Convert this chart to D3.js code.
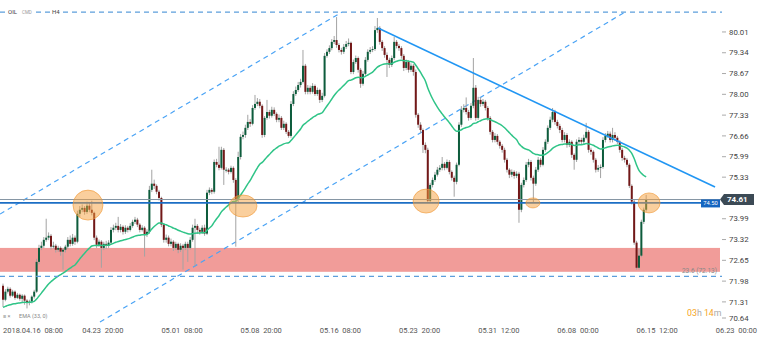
<!DOCTYPE html>
<html>
<head>
<meta charset="utf-8">
<script src="https://cdn.jsdelivr.net/npm/d3@7"></script>
<style>
  body { margin: 0; background: #fff; }
  svg { display: block; font-family: Roboto, "Noto Sans", sans-serif; }
</style>
</head>
<body>
<svg width="760" height="339"></svg>
<script>
// OIL CMD, H4 candles 2018.04.16 08:00 -> 06.15
var firstOpen = 71.83;
var closes = [
  71.38, 71.64, 71.73, 71.51, 71.64, 71.44, 71.54, 71.41, 71.51, 71.35,
  71.28, 71.32, 71.48, 71.64, 72.60, 73.05, 73.12, 73.31, 73.38, 73.44,
  73.09, 73.12, 72.99, 73.05, 72.93, 72.99, 73.09, 73.31, 73.18, 73.38,
  73.25, 74.15, 74.28, 74.34, 74.21, 74.41, 74.28, 74.18, 73.38, 73.15,
  73.25, 73.05, 73.18, 73.12, 73.22, 73.63, 73.70, 73.76, 73.63, 73.73,
  73.57, 73.70, 73.63, 73.76, 73.89, 73.96, 73.80, 73.63, 73.70, 73.47,
  73.57, 74.92, 75.12, 75.05, 74.86, 74.66, 73.80, 73.31, 73.38, 73.18,
  73.25, 73.05, 73.18, 72.99, 73.12, 73.05, 73.18, 73.05, 73.31, 73.70,
  73.76, 73.63, 73.57, 73.70, 73.51, 74.83, 74.92, 74.86, 75.82, 75.73,
  75.63, 76.21, 75.57, 75.57, 75.50, 75.63, 75.24, 74.60, 75.98, 76.63,
  76.69, 76.92, 77.11, 77.05, 77.56, 77.69, 77.76, 77.63, 76.69, 77.24,
  77.43, 77.31, 77.50, 77.37, 77.18, 77.24, 76.92, 77.05, 76.79, 76.66,
  77.69, 78.01, 78.14, 78.30, 78.40, 78.92, 78.08, 78.21, 78.08, 78.27,
  78.01, 78.14, 77.82, 77.95, 79.24, 79.37, 79.49, 79.69, 79.75, 79.59,
  79.43, 79.37, 79.53, 79.62, 79.66, 78.72, 79.04, 79.17, 78.79, 78.34,
  78.66, 79.11, 79.37, 79.43, 79.46, 80.07, 80.14, 79.69, 79.49, 79.27,
  79.11, 78.95, 79.17, 79.69, 79.56, 79.49, 79.24, 78.85, 79.04, 78.79,
  78.92, 78.72, 77.34, 77.02, 76.85, 76.37, 76.21, 74.57, 75.08, 75.24,
  75.41, 75.57, 75.63, 75.76, 75.63, 75.82, 75.50, 75.31, 75.18, 75.73,
  77.02, 77.50, 77.56, 77.43, 77.24, 77.63, 78.21, 77.24, 77.82, 77.69,
  77.76, 77.56, 77.24, 76.79, 76.53, 76.66, 76.47, 76.34, 76.21, 75.89,
  75.57, 75.41, 75.50, 75.37, 75.44, 74.28, 75.08, 75.24, 75.73, 75.82,
  75.31, 75.12, 75.57, 75.89, 75.73, 76.21, 76.47, 76.92, 77.18, 77.43,
  77.11, 76.98, 76.85, 76.53, 76.69, 76.37, 76.47, 76.05, 75.89, 76.47,
  76.53, 76.47, 76.60, 76.79, 76.21, 76.15, 75.89, 75.57, 75.63, 75.66,
  76.53, 76.66, 76.73, 76.53, 76.69, 76.60, 76.47, 76.21, 75.95, 75.89,
  75.73, 75.05, 74.54, 73.22, 72.41, 72.80, 73.89, 74.28, 74.61
];
var highs = [
  71.90, 71.72, 71.80, 71.78, 71.70, 71.68, 71.60, 71.58, 71.56, 71.55,
  71.40, 71.38, 71.52, 71.70, 72.70, 73.15, 73.25, 73.40, 73.99, 73.55,
  73.50, 73.25, 73.18, 73.12, 73.10, 73.05, 73.15, 73.40, 73.45, 73.50,
  73.45, 74.25, 74.40, 74.45, 74.40, 74.54, 74.50, 74.57, 74.22, 73.45,
  73.32, 73.30, 73.25, 73.28, 73.30, 73.72, 73.80, 73.86, 74.05, 73.82,
  73.78, 73.78, 73.76, 73.85, 73.96, 74.05, 74.02, 73.85, 73.78, 73.75,
  73.65, 75.05, 75.57, 75.25, 75.10, 74.92, 74.70, 73.85, 73.48, 73.45,
  73.35, 73.30, 73.25, 73.22, 73.20, 73.18, 73.25, 73.25, 73.40, 73.80,
  73.99, 73.82, 73.70, 73.78, 73.80, 74.92, 75.00, 74.98, 75.90, 75.92,
  76.31, 76.31, 76.27, 75.65, 75.62, 75.70, 75.68, 75.30, 76.15, 76.72,
  76.80, 77.02, 77.34, 77.20, 77.65, 77.98, 77.88, 77.85, 77.68, 77.30,
  77.82, 77.50, 77.60, 77.58, 77.42, 77.35, 77.30, 77.15, 77.10, 76.85,
  77.78, 78.10, 78.25, 78.40, 78.50, 79.43, 78.98, 78.30, 78.28, 78.36,
  78.32, 78.22, 78.18, 78.05, 79.33, 79.45, 79.58, 79.78, 79.88, 80.49,
  79.65, 79.50, 79.62, 79.72, 79.80, 79.70, 79.12, 79.25, 79.22, 78.85,
  78.75, 79.20, 79.45, 79.52, 79.55, 80.20, 80.46, 80.20, 79.75, 79.55,
  79.35, 79.18, 79.25, 79.85, 79.75, 79.62, 79.55, 79.30, 79.12, 79.10,
  79.00, 78.98, 78.80, 77.40, 77.10, 76.90, 76.45, 76.28, 75.15, 75.32,
  75.50, 75.66, 75.72, 75.98, 75.82, 75.90, 75.88, 75.55, 75.38, 75.80,
  77.10, 77.62, 77.68, 77.90, 77.50, 77.72, 79.17, 78.30, 77.92, 77.90,
  77.85, 77.82, 77.62, 77.30, 76.85, 76.75, 76.72, 76.52, 76.40, 76.28,
  75.95, 75.62, 75.58, 75.55, 75.52, 75.50, 75.15, 75.32, 75.82, 75.92,
  75.88, 75.38, 75.66, 75.98, 75.95, 76.30, 76.55, 77.00, 77.28, 77.56,
  77.50, 77.18, 77.05, 76.92, 76.78, 76.75, 76.55, 76.52, 76.10, 76.55,
  76.62, 76.60, 76.70, 77.08, 76.85, 76.28, 76.20, 75.95, 75.72, 75.74,
  76.62, 76.75, 76.82, 76.80, 76.92, 76.78, 76.66, 76.52, 76.28, 76.02,
  75.95, 75.78, 75.10, 74.60, 73.28, 73.02, 73.96, 74.35, 74.76
];
var lows = [
  71.15, 71.33, 71.58, 71.45, 71.47, 71.38, 71.40, 71.35, 71.30, 71.22,
  71.10, 71.20, 71.26, 71.42, 71.60, 72.52, 72.98, 73.05, 73.25, 73.30,
  73.00, 73.02, 72.90, 72.92, 72.80, 72.35, 72.90, 73.02, 73.10, 73.12,
  73.15, 73.20, 74.05, 74.20, 74.12, 74.15, 74.20, 74.10, 73.30, 73.05,
  73.08, 72.41, 72.98, 73.02, 73.05, 73.18, 73.55, 73.62, 73.55, 73.55,
  73.48, 73.50, 73.55, 73.58, 73.70, 73.82, 73.72, 73.55, 73.58, 72.77,
  73.40, 73.50, 74.85, 74.95, 74.78, 74.58, 73.72, 73.22, 73.22, 73.10,
  73.10, 72.95, 72.98, 72.88, 72.92, 72.35, 72.98, 72.60, 73.00, 73.25,
  72.45, 73.50, 73.48, 73.50, 73.44, 73.47, 74.75, 74.78, 74.80, 75.65,
  75.55, 75.58, 75.08, 75.48, 75.42, 75.45, 75.15, 73.09, 74.50, 75.90,
  76.55, 76.60, 76.85, 76.95, 77.00, 77.50, 77.62, 77.55, 76.60, 76.62,
  77.18, 77.22, 77.25, 77.30, 77.10, 77.10, 76.85, 76.85, 76.72, 76.60,
  76.60, 77.62, 77.95, 78.08, 78.22, 78.35, 78.00, 78.00, 78.00, 78.02,
  77.95, 77.95, 77.72, 77.75, 77.90, 79.18, 79.30, 79.42, 79.62, 79.50,
  79.35, 79.28, 79.30, 79.46, 79.55, 78.65, 78.65, 78.98, 78.70, 78.21,
  78.28, 78.60, 79.05, 79.30, 79.36, 79.40, 79.98, 79.60, 79.40, 79.18,
  78.56, 78.85, 78.88, 79.10, 79.48, 79.40, 79.15, 78.75, 78.78, 78.70,
  78.72, 78.60, 77.25, 76.92, 76.75, 76.11, 76.10, 74.50, 74.50, 75.00,
  75.18, 75.35, 75.50, 75.55, 75.55, 75.58, 75.42, 75.22, 74.70, 75.10,
  75.68, 76.95, 77.42, 77.35, 77.15, 77.18, 77.55, 77.15, 77.18, 77.60,
  77.62, 77.48, 77.15, 76.70, 76.45, 76.45, 76.38, 76.25, 76.12, 75.80,
  75.48, 75.30, 75.33, 75.28, 75.30, 73.86, 74.20, 75.00, 75.18, 75.65,
  75.22, 74.50, 75.05, 75.50, 75.65, 75.68, 76.15, 76.40, 76.85, 77.10,
  77.02, 76.90, 76.75, 76.45, 76.45, 76.28, 76.30, 75.95, 75.57, 75.82,
  76.40, 76.38, 76.40, 76.55, 76.12, 76.05, 75.80, 75.48, 75.50, 75.30,
  75.60, 76.45, 76.60, 76.45, 76.45, 76.50, 76.40, 76.12, 75.86, 75.80,
  75.65, 74.98, 74.45, 73.15, 72.35, 72.35, 72.75, 73.82, 74.22
];

var emaPeriod = 33;
var emaSeed = 71.12;

var xTickBars = [0, 33, 66, 99, 132, 165, 198, 231, 264, 297];
var xTickLabels = ["2018.04.16  08:00", "04.23  20:00", "05.01  08:00", "05.08  20:00",
  "05.16  08:00", "05.23  20:00", "05.31  12:00", "06.08  00:00", "06.15  12:00", "06.23  00:00"];
var yTicks = [80.01, 79.34, 78.67, 78.00, 77.33, 76.66, 75.99, 75.33, 73.99, 73.32, 72.65, 71.98, 71.31, 70.64];

var lastPrice = 74.61;
var supportLevel = 74.50;
var zoneTop = 73.05, zoneBottom = 72.28;
var fibLevel = 72.13, fibLabel = "23.6 (72.13)";
var topLevel = 80.65;

// [bar, price] end points
var trendLine = [[156.25, 80.14], [296.7, 75.01]];
var channelUpper = [[-1.25, 74.14], [141.25, 80.65]];
var channelLower = [[40.4, 70.66], [259.2, 80.65]];

// bar, price, rx, ry
var highlights = [
  [35.4, 74.43, 15, 15],
  [100.0, 74.40, 14, 11],
  [176.3, 74.56, 13, 12],
  [220.8, 74.50, 7, 5],
  [269.2, 74.50, 11, 10]
];

var svg = d3.select("svg");
var plotRight = 720;

var x = d3.scaleLinear().domain([-1.25, 299.6]).range([0, 722]);
var y = d3.scaleLinear().domain([70.63, 81.04]).range([323, 0]);

var bars = closes.map(function(c, i) {
  return { i: i, o: i ? closes[i - 1] : firstOpen, c: c, h: highs[i], l: lows[i] };
});

var k = 2 / (emaPeriod + 1), e = emaSeed;
var ema = closes.map(function(c) { e = e + k * (c - e); return e; });

svg.append("defs").append("clipPath").attr("id", "plot")
  .append("rect").attr("x", 0).attr("y", 0).attr("width", plotRight).attr("height", 323);

var plot = svg.append("g").attr("clip-path", "url(#plot)");

// support zone
plot.append("rect")
  .attr("x", 0).attr("width", plotRight)
  .attr("y", y(zoneTop)).attr("height", y(zoneBottom) - y(zoneTop))
  .attr("fill", "#f19c99");

// dashed levels
[topLevel, fibLevel].forEach(function(p) {
  svg.append("line")
    .attr("x1", 0).attr("x2", 722).attr("y1", y(p)).attr("y2", y(p))
    .attr("stroke", "#5d9fdc").attr("stroke-width", 1.2)
    .attr("stroke-dasharray", "5,4");
});

svg.append("text")
  .attr("x", 717).attr("y", y(fibLevel) - 3)
  .attr("text-anchor", "end").attr("font-size", 6.5).attr("fill", "#888")
  .text(fibLabel);

// channel
[channelUpper, channelLower].forEach(function(ln) {
  plot.append("line")
    .attr("x1", x(ln[0][0])).attr("y1", y(ln[0][1]))
    .attr("x2", x(ln[1][0])).attr("y2", y(ln[1][1]))
    .attr("stroke", "#4aa3f5").attr("stroke-width", 1.2)
    .attr("stroke-dasharray", "5,4");
});

// candles
var candle = plot.selectAll(".candle").data(bars).enter().append("g").attr("class", "candle");

candle.append("line")
  .attr("x1", function(d) { return x(d.i); })
  .attr("x2", function(d) { return x(d.i); })
  .attr("y1", function(d) { return y(d.h); })
  .attr("y2", function(d) { return y(d.l); })
  .attr("stroke", "#a3a3a3").attr("stroke-width", 1);

candle.append("rect")
  .attr("x", function(d) { return x(d.i) - 1; })
  .attr("width", 2)
  .attr("y", function(d) { return y(Math.max(d.o, d.c)); })
  .attr("height", function(d) { return Math.max(1, Math.abs(y(d.o) - y(d.c))); })
  .attr("fill", function(d) { return d.c >= d.o ? "#0d5c3c" : "#721818"; });

// EMA
plot.append("path")
  .datum(ema)
  .attr("fill", "none").attr("stroke", "#2fc487").attr("stroke-width", 1.5)
  .attr("d", d3.line().x(function(d, i) { return x(i); }).y(function(d) { return y(d); }).curve(d3.curveMonotoneX));

// price lines
plot.append("line")
  .attr("x1", 0).attr("x2", plotRight).attr("y1", y(lastPrice)).attr("y2", y(lastPrice))
  .attr("stroke", "#8696a4").attr("stroke-width", 1);
plot.append("line")
  .attr("x1", 0).attr("x2", plotRight).attr("y1", y(supportLevel)).attr("y2", y(supportLevel))
  .attr("stroke", "#1c6ec4").attr("stroke-width", 1.6);

// trend line
plot.append("line")
  .attr("x1", x(trendLine[0][0])).attr("y1", y(trendLine[0][1]))
  .attr("x2", x(trendLine[1][0])).attr("y2", y(trendLine[1][1]))
  .attr("stroke", "#2196f3").attr("stroke-width", 1.6);

// highlights
plot.selectAll(".hl").data(highlights).enter().append("ellipse")
  .attr("class", "hl")
  .attr("cx", function(d) { return x(d[0]); })
  .attr("cy", function(d) { return y(d[1]); })
  .attr("rx", function(d) { return d[2]; })
  .attr("ry", function(d) { return d[3]; })
  .attr("fill", "rgba(245,160,60,0.5)")
  .attr("stroke", "rgba(240,150,50,0.6)").attr("stroke-width", 1);

// y axis
var yAxis = svg.append("g");
yAxis.selectAll("line").data(yTicks).enter().append("line")
  .attr("x1", 722).attr("x2", 726)
  .attr("y1", function(d) { return Math.min(y(d), 318); })
  .attr("y2", function(d) { return Math.min(y(d), 318); })
  .attr("stroke", "#aaa");
yAxis.selectAll("text").data(yTicks).enter().append("text")
  .attr("x", 729)
  .attr("y", function(d) { return Math.min(y(d), 318); })
  .attr("dy", "0.35em")
  .attr("font-size", 7.8).attr("fill", "#444")
  .text(function(d) { return d.toFixed(2); });

// support tag
svg.append("rect")
  .attr("x", 701).attr("y", y(supportLevel) - 3.5).attr("width", 19).attr("height", 8)
  .attr("fill", "#1565c0");
svg.append("text")
  .attr("x", 710.5).attr("y", y(supportLevel) + 0.5).attr("dy", "0.35em")
  .attr("text-anchor", "middle").attr("font-size", 5.8).attr("fill", "#fff")
  .text(supportLevel.toFixed(2));

// last price tag
var ly = y(lastPrice);
svg.append("path")
  .attr("d", "M720," + ly + " L724," + (ly - 5.5) + " L754," + (ly - 5.5) + " L754," + (ly + 5.5) + " L724," + (ly + 5.5) + " Z")
  .attr("fill", "#3c4a55");
svg.append("text")
  .attr("x", 727).attr("y", ly).attr("dy", "0.35em")
  .attr("font-size", 8).attr("font-weight", "bold").attr("fill", "#fff")
  .text(lastPrice.toFixed(2));

// x axis labels
svg.append("g").selectAll("text").data(xTickBars).enter().append("text")
  .attr("x", function(d) { return x(d); })
  .attr("y", 333)
  .attr("font-size", 7.5).attr("fill", "#555")
  .attr("xml:space", "preserve")
  .text(function(d, i) { return xTickLabels[i]; });

// timer
var timer = svg.append("text").attr("x", 687).attr("y", 316).attr("font-size", 8.8);
timer.append("tspan").attr("fill", "#f5a623").text("03");
timer.append("tspan").attr("fill", "#aaa").text("h ");
timer.append("tspan").attr("fill", "#f5a623").text("14");
timer.append("tspan").attr("fill", "#aaa").text("m");

// title on top line
var title = svg.append("g");
title.append("rect").attr("x", 6).attr("y", 7).attr("width", 30).attr("height", 9).attr("fill", "#fff");
title.append("rect").attr("x", 50).attr("y", 7).attr("width", 11).attr("height", 9).attr("fill", "#fff");
title.append("text").attr("x", 8).attr("y", 14).attr("font-size", 6).attr("fill", "#444").text("OIL");
title.append("text").attr("x", 22).attr("y", 14).attr("font-size", 4.5).attr("fill", "#999").text("CMD");
title.append("text").attr("x", 52).attr("y", 14).attr("font-size", 6).attr("fill", "#444").text("H4");

// legend
var legend = svg.append("g");
legend.append("text").attr("x", 3).attr("y", 318).attr("font-size", 5.5).attr("fill", "#888").text("\u2261  \u00d7");
legend.append("text").attr("x", 19).attr("y", 318).attr("font-size", 5.5).attr("fill", "#888").text("EMA (33, 0)");
</script>
</body>
</html>
